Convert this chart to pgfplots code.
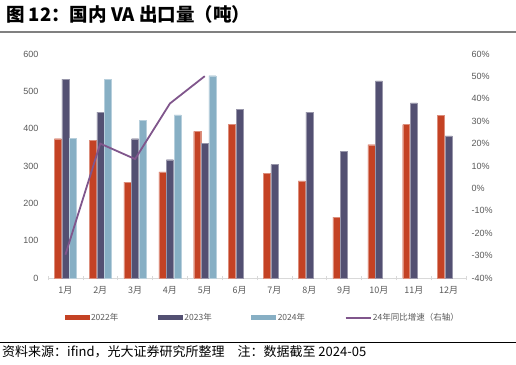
\documentclass[border=0pt]{standalone}
\usepackage{pgfplots}
\pgfplotsset{compat=1.18}
\usepackage{fontspec}
\setmainfont{Liberation Sans}
\newfontfamily\cjk{Noto Sans CJK SC}
\definecolor{c22}{RGB}{196,66,36}
\definecolor{c23}{RGB}{83,80,114}
\definecolor{c24}{RGB}{135,175,196}
\definecolor{cline}{RGB}{128,86,140}
\definecolor{tickgray}{RGB}{89,89,89}
\pgfplotsset{
  /pgfplots/barleg/.style={legend image code/.code={\fill[##1,draw=none] (0pt,-2.5pt) rectangle (25pt,2.5pt);}},
  /pgfplots/lineleg/.style={legend image code/.code={\draw[##1] (0pt,0pt) -- (25pt,0pt);}}
}
\begin{document}
\begin{tikzpicture}
\useasboundingbox (0,0) rectangle (516pt,364pt);
\node[anchor=west, inner sep=0pt, font=\cjk\bfseries\fontsize{18.5}{20}\selectfont] at (6pt,350pt) {图 12：国内 VA 出口量（吨）};
\draw[gray, line width=1.2pt] (0,332pt) -- (516pt,332pt);
\draw[black, line width=1pt] (0,21.3pt) -- (516pt,21.3pt);
\node[anchor=west, inner sep=0pt, font=\cjk\fontsize{13}{15}\selectfont] at (2pt,12pt) {资料来源：ifind，光大证券研究所整理\quad 注：数据截至 2024-05};
\begin{axis}[
  at={(48pt,86pt)}, anchor=south west,
  scale only axis, width=418pt, height=224pt,
  xmin=-0.5, xmax=11.5, ymin=0, ymax=600,
  ybar, bar width=7pt,
  axis y line*=left, axis x line*=bottom,
  y axis line style={draw=none},
  x axis line style={draw=black!15, line width=0.8pt},
  xtick={0,...,11},
  xticklabels={1月,2月,3月,4月,5月,6月,7月,8月,9月,10月,11月,12月},
  minor xtick={-0.5,0.5,...,11.5},
  major tick length=0pt, minor tick length=4pt, tick align=center,
  minor x tick style={draw=black!15, line width=0.6pt},
  ytick={0,100,...,600},
  /pgf/number format/assume math mode=true,
  yticklabel style={font=\fontsize{9}{10}\selectfont, text=tickgray, xshift=-6pt},
  xticklabel style={font=\cjk\fontsize{9}{10}\selectfont, text=tickgray, yshift=-5pt},
  legend columns=4,
  legend cell align=left,
  legend style={at={(0.513,-0.178)}, anchor=center, draw=none, fill=none,
    font=\cjk\fontsize{8.5}{10}\selectfont, text=tickgray,
    /tikz/every even column/.append style={column sep=38pt},
    nodes={inner sep=1.5pt}},
  barleg,
]
\addplot[fill=c22, draw=c22!60!white, line width=0.3pt, bar shift=-7.6pt] coordinates {
 (0,373) (1,369) (2,257) (3,284) (4,393) (5,411) (6,280) (7,260) (8,163) (9,357) (10,411) (11,436)};
\addlegendentry{2022年}
\addplot[fill=c23, draw=c23!60!white, line width=0.3pt, bar shift=0pt] coordinates {
 (0,533) (1,444) (2,373) (3,317) (4,361) (5,451) (6,304) (7,444) (8,340) (9,528) (10,469) (11,381)};
\addlegendentry{2023年}
\addplot[fill=c24, draw=c24!60!white, line width=0.3pt, bar shift=7.6pt] coordinates {
 (0,375) (1,533) (2,422) (3,437) (4,542)};
\addlegendentry{2024年}
\addlegendimage{lineleg, cline, line width=1.8pt}
\addlegendentry{24年同比增速（右轴）}
\end{axis}
\begin{axis}[
  at={(48pt,86pt)}, anchor=south west,
  scale only axis, width=418pt, height=224pt,
  xmin=-0.5, xmax=11.5, ymin=-40, ymax=60,
  axis y line*=right, axis x line=none,
  y axis line style={draw=none},
  major tick length=0pt,
  ytick={-40,-30,...,60},
  /pgf/number format/assume math mode=true,
  yticklabel={\pgfmathprintnumber{\tick}\%},
  yticklabel style={font=\fontsize{9}{10}\selectfont, text=tickgray, xshift=2pt},
]
\addplot[cline, line width=1.8pt, mark=none] coordinates {
 (0,-29.6) (1,20.0) (2,13.1) (3,37.9) (4,50.1)};
\end{axis}
\end{tikzpicture}
\end{document}
